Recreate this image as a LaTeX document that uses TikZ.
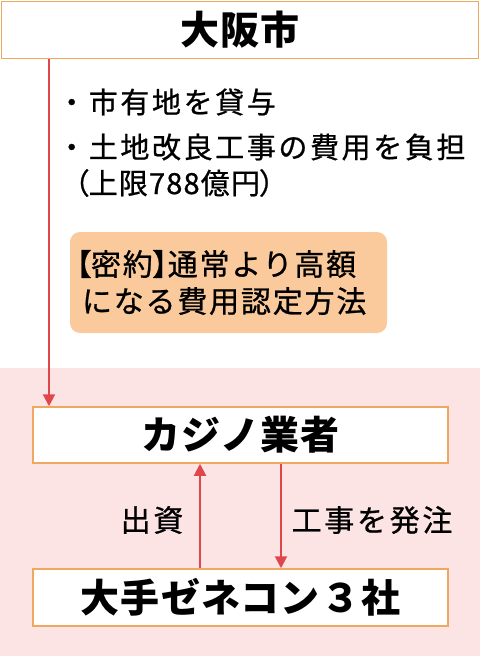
\documentclass[tikz,border=0pt]{standalone}
\usepackage{fontspec}
\setmainfont{Noto Sans CJK JP}
\newfontfamily\heading{Noto Sans CJK JP}[LetterSpace=3]
\newfontfamily\spaced{Noto Sans CJK JP}[LetterSpace=9, FakeBold=0.8]
\newfontfamily\tight{Noto Sans CJK JP}[LetterSpace=4, FakeBold=0.8]
\newfontfamily\secretfont{Noto Sans CJK JP}[LetterSpace=6, FakeBold=0.8]
\newfontfamily\bracket{Noto Sans CJK JP}[RawFeature=+palt, FakeBold=0.8]
\newfontfamily\loose{Noto Sans CJK JP}[LetterSpace=9, FakeBold=0.8]
\usetikzlibrary{arrows.meta}

\definecolor{boxline}{HTML}{F0A860}
\definecolor{pinkbg}{HTML}{FDE4E4}
\definecolor{secretfill}{HTML}{FAC99C}
\definecolor{flowred}{HTML}{E0474C}

\tikzset{
  frame/.style={draw=boxline, fill=white, line width=1.5pt, inner sep=0pt,
    minimum width=415pt, minimum height=56pt,
    font=\fontsize{39}{40}\heading\bfseries},
  flow/.style={draw=flowred, line width=2pt, -{Triangle[length=12pt,width=12pt]}},
  body/.style={inner sep=0pt, anchor=west, font=\fontsize{29}{30}\spaced},
  tag/.style={inner sep=0pt, font=\fontsize{30}{32}\loose},
}

\begin{document}
\begin{tikzpicture}[x=1pt,y=-1pt]
    \useasboundingbox (0,0) rectangle (480,656);
    \fill[pinkbg] (0,368) rectangle (480,656);

    % boxes
    \node[frame, minimum width=477pt, minimum height=57pt] (osaka) at (240,30) {大阪市};
    \node[frame] (casino) at (240.5,435) {カジノ業者};
    \node[frame, minimum height=57pt] (zenecon) at (240.5,597.5) {大手ゼネコン３社};

    % what the city gives
    \node[body] (lend) at (57,102) {・市有地を貸与};
    \node[body] (cost) at (57,147) {・土地改良工事の費用を負担};
    \node[body, font=\fontsize{29}{30}\tight] (cap) at (74,183)
      {{\bracket（}上限788億円{\bracket）}};

    \node[fill=secretfill, rounded corners=10pt, inner xsep=12pt, inner ysep=0pt,
      text width=293pt, minimum height=101pt, align=left,
      font=\fontsize{30}{37}\secretfont] (secret) at (228.5,282.5)
      {\hspace*{-6pt}{\bracket【}密約{\bracket】}通常より高額\\になる費用認定方法};

    % flows
    \coordinate (lead) at (49,0);
    \coordinate (fund) at (200,0);
    \coordinate (order) at (281,0);
    \draw[flow] (osaka.south -| lead) -- (casino.north -| lead);
    \draw[flow] (zenecon.north -| fund) -- (casino.south -| fund);
    \draw[flow] (casino.south -| order) -- (zenecon.north -| order);

    \node[tag] (invest) at (152,520) {出資};
    \node[tag] (build) at (372,520) {工事を発注};
\end{tikzpicture}
\end{document}
